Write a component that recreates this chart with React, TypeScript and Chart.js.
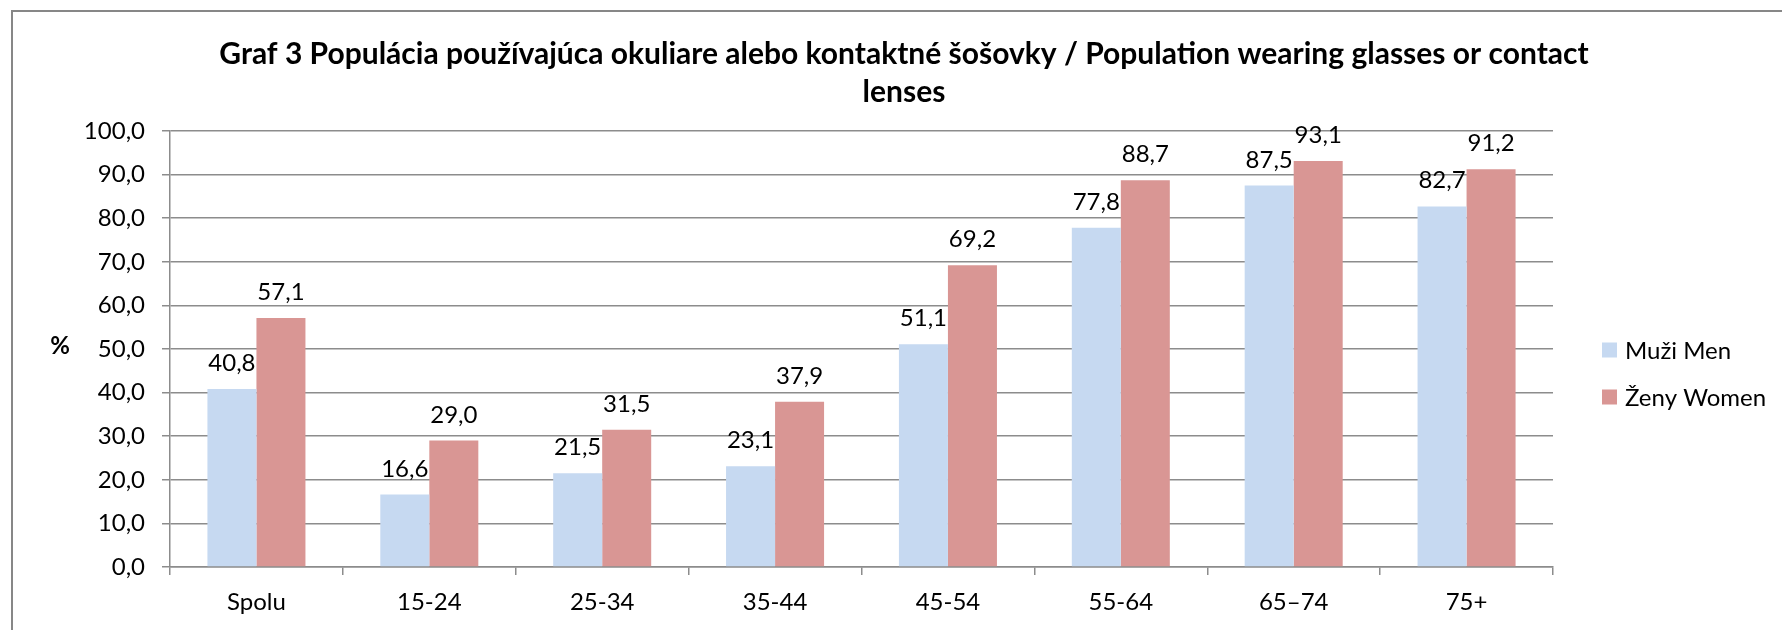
import { useEffect, useRef } from 'react';
import { Chart, registerables } from 'chart.js';

Chart.register(...registerables);

const categories = ['Spolu', '15-24', '25-34', '35-44', '45-54', '55-64', '65–74', '75+'];
const menValues = [40.8, 16.6, 21.5, 23.1, 51.1, 77.8, 87.5, 82.7];
const womenValues = [57.1, 29.0, 31.5, 37.9, 69.2, 88.7, 93.1, 91.2];
const seriesNames = ['Muži Men', 'Ženy Women'];
const seriesColors = ['#C6D9F1', '#D99694'];
const titleLines = [
  'Graf 3 Populácia používajúca okuliare alebo kontaktné šošovky / Population wearing glasses or contact',
  'lenses',
];
const yAxisLabel = '%';
const yMin = 0;
const yMax = 100;
const yStep = 10;

const FONT = 'Lato, "Liberation Sans", sans-serif';
const GRID = '#8c8c8c';
const TEXT_SIZE = 24;

const fmt = (v: number) => v.toFixed(1).replace('.', ',');

const decorPlugin = {
  id: 'decor',
  beforeDraw(chart: any) {
    const { ctx, width, height } = chart;
    ctx.save();
    ctx.fillStyle = '#ffffff';
    ctx.fillRect(0, 0, width, height);
    ctx.strokeStyle = '#878787';
    ctx.lineWidth = 2;
    ctx.strokeRect(12, 11, width + 100, height + 100);
    ctx.restore();
  },
  afterDatasetsDraw(chart: any) {
    const { ctx } = chart;
    ctx.save();
    ctx.font = `${TEXT_SIZE}px ${FONT}`;
    ctx.fillStyle = '#000';
    ctx.textAlign = 'center';
    ctx.textBaseline = 'alphabetic';
    chart.data.datasets.forEach((ds: any, i: number) => {
      const meta = chart.getDatasetMeta(i);
      meta.data.forEach((el: any, j: number) => {
        ctx.fillText(fmt(ds.data[j]), el.x, el.y - 18);
      });
    });
    ctx.restore();
  },
  afterDraw(chart: any) {
    const { ctx, chartArea } = chart;
    ctx.save();
    // axis label "%"
    ctx.font = `bold ${TEXT_SIZE}px ${FONT}`;
    ctx.fillStyle = '#000';
    ctx.textAlign = 'center';
    ctx.textBaseline = 'middle';
    ctx.fillText(yAxisLabel, 60, (chartArea.top + chartArea.bottom) / 2 - 3);
    // legend
    const lx = chartArea.right + 49;
    const rows = [350, 397];
    ctx.font = `${TEXT_SIZE}px ${FONT}`;
    ctx.textAlign = 'left';
    chart.data.datasets.forEach((ds: any, i: number) => {
      const cy = rows[i];
      ctx.fillStyle = ds.backgroundColor;
      ctx.fillRect(lx, cy - 7.5, 15, 15);
      ctx.fillStyle = '#000';
      ctx.fillText(ds.label, lx + 23, cy + 1);
    });
    ctx.restore();
  },
};

export default function App() {
  const ref = useRef<HTMLCanvasElement | null>(null);

  useEffect(() => {
    document.body.style.margin = '0';
    const canvas = ref.current;
    if (!canvas) return;
    const chart = new Chart(canvas, {
      type: 'bar',
      data: {
        labels: categories,
        datasets: [
          {
            label: seriesNames[0],
            data: menValues,
            backgroundColor: seriesColors[0],
            categoryPercentage: 0.567,
            barPercentage: 1,
            yAxisID: 'y',
          },
          {
            label: seriesNames[1],
            data: womenValues,
            backgroundColor: seriesColors[1],
            categoryPercentage: 0.567,
            barPercentage: 1,
            yAxisID: 'y',
          },
        ],
      },
      options: {
        responsive: false,
        animation: false,
        devicePixelRatio: 1,
        layout: { padding: { left: 26, right: 0, top: 0, bottom: 0 } },
        plugins: {
          legend: { display: false },
          tooltip: { enabled: false },
          title: {
            display: true,
            text: titleLines,
            color: '#000',
            font: { family: FONT, size: 30, weight: 'bold', lineHeight: 38 / 30 },
            padding: { top: 35, bottom: 20 },
          },
        },
        scales: {
          x: {
            grid: {
              display: true,
              drawOnChartArea: false,
              drawTicks: true,
              tickLength: 8,
              color: GRID,
              lineWidth: 1.5,
              offset: true,
            },
            border: { display: true, color: GRID, width: 1.5 },
            ticks: {
              color: '#000',
              font: { family: FONT, size: TEXT_SIZE },
              padding: 13,
              maxRotation: 0,
              autoSkip: false,
            },
            afterFit(s: any) {
              s.height = 63;
            },
          },
          y: {
            min: yMin,
            max: yMax,
            ticks: {
              stepSize: yStep,
              color: '#000',
              font: { family: FONT, size: TEXT_SIZE },
              padding: 17,
              callback: (v: any) => fmt(Number(v)),
            },
            grid: {
              color: GRID,
              lineWidth: 1.5,
              drawTicks: true,
              tickLength: 8,
            },
            border: { display: true, color: GRID, width: 1.5 },
            afterFit(s: any) {
              s.width = 144;
            },
          },
          yR: {
            type: 'linear',
            position: 'right',
            display: true,
            grid: { display: false, drawTicks: false },
            border: { display: false },
            ticks: { display: false },
            afterFit(s: any) {
              s.width = 229;
            },
          },
        },
      },
      plugins: [decorPlugin],
    } as any);
    return () => chart.destroy();
  }, []);

  return (
    <div style={{ width: 1782, height: 630 }}>
      <canvas ref={ref} width={1782} height={630} style={{ display: 'block', width: 1782, height: 630 }} />
    </div>
  );
}
